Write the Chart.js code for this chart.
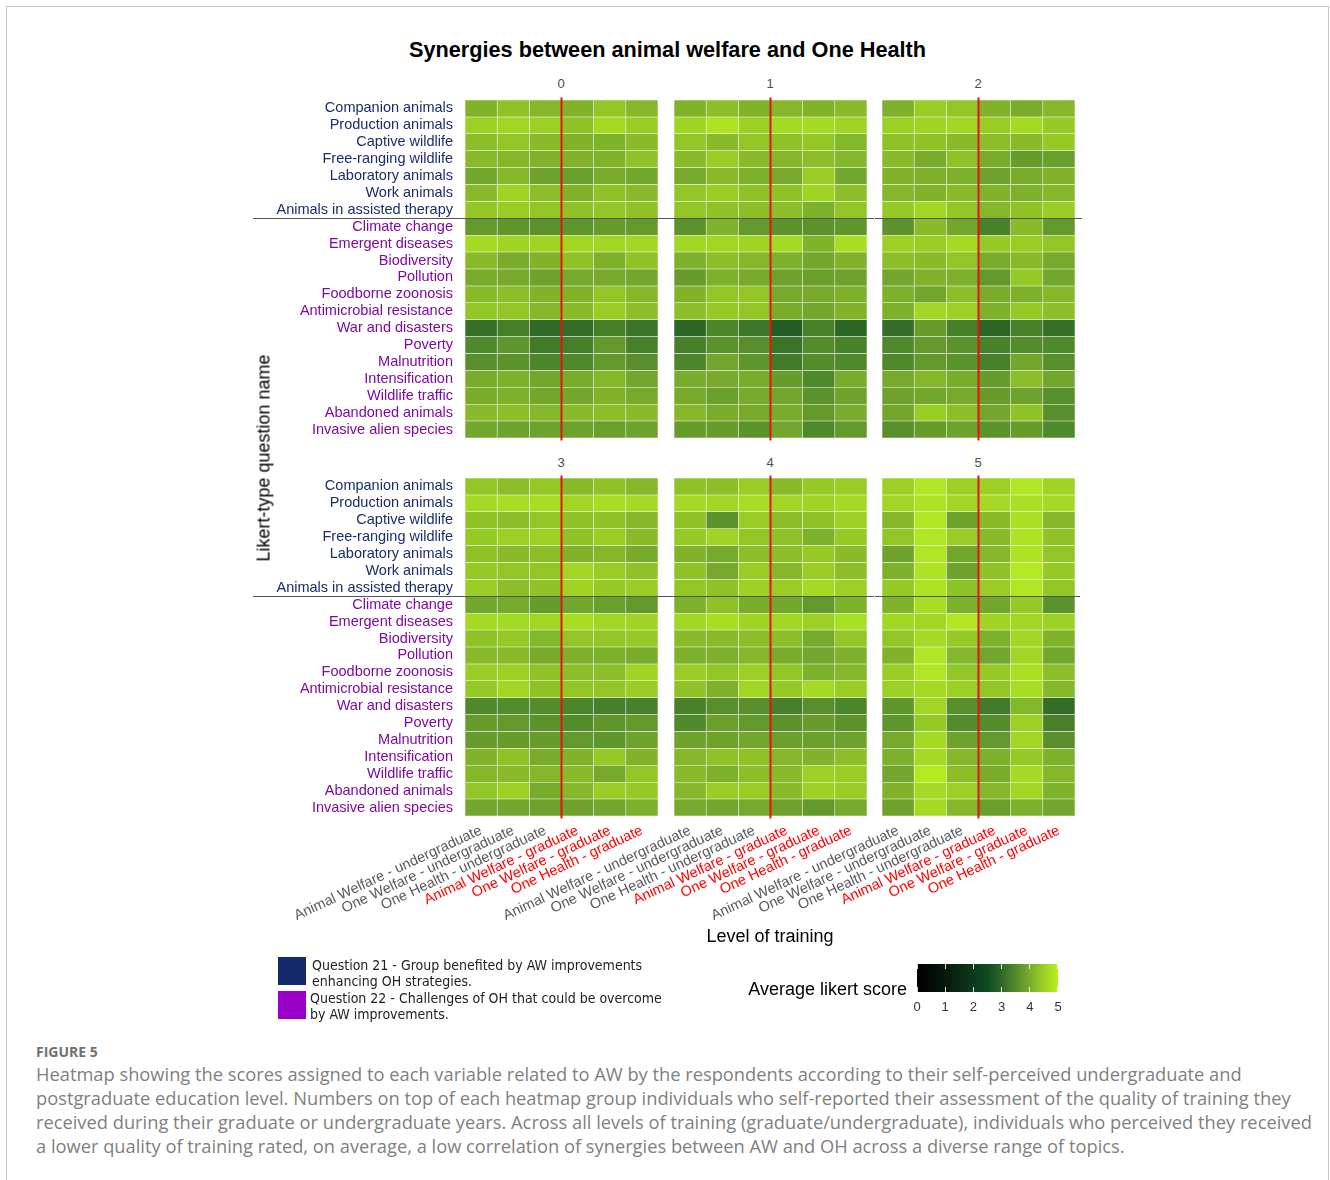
<!DOCTYPE html>
<html>
<head>
<meta charset="utf-8">
<script src="https://cdn.jsdelivr.net/npm/chart.js@4.4.1/dist/chart.umd.min.js"></script>
<style>
  body { margin: 0; background: #fff; width: 1330px; height: 1180px; position: relative; overflow: hidden;
         font-family: "Liberation Sans", Arial, sans-serif; }
  .frame { position: absolute; left: 6px; top: 6px; width: 1323px; height: 1200px; box-sizing: border-box;
           border: 1.5px solid #c8c8c8; border-bottom: none; }
  canvas.panel { position: absolute; left: 0; }
  .txt { position: absolute; white-space: nowrap; }
  .strip { position: absolute; width: 40px; margin-left: -20px; text-align: center; font-size: 13px; color: #4d4d4d; }
  .sw { position: absolute; left: 278px; width: 28px; height: 28px; }
  .leg { position: absolute; font-family: "DejaVu Sans Condensed", "Liberation Sans", sans-serif;
         font-size: 14px; line-height: 16px; color: #222; white-space: nowrap; }
  .cb { position: absolute; top: 999px; width: 20px; margin-left: -10px; text-align: center; font-size: 13px; color: #333; }
  .cap { position: absolute; left: 36px; font-family: "Open Sans", Lato, sans-serif; color: #808080; white-space: nowrap; }
</style>
</head>
<body>
<div class="frame"></div>

<div class="txt" style="left:0; width:1335px; top:37px; text-align:center; font-size:21.7px; font-weight:bold; color:#000;">Synergies between animal welfare and One Health</div>

<div class="strip" style="left:561px; top:76px;">0</div>
<div class="strip" style="left:770px; top:76px;">1</div>
<div class="strip" style="left:978px; top:76px;">2</div>
<div class="strip" style="left:561px; top:455px;">3</div>
<div class="strip" style="left:770px; top:455px;">4</div>
<div class="strip" style="left:978px; top:455px;">5</div>

<canvas id="p0" class="panel" width="1330" height="356" style="top:90px"></canvas>
<canvas id="p1" class="panel" width="1330" height="356" style="top:90px"></canvas>
<canvas id="p2" class="panel" width="1330" height="356" style="top:90px"></canvas>
<canvas id="p3" class="panel" width="1330" height="500" style="top:468px"></canvas>
<canvas id="p4" class="panel" width="1330" height="500" style="top:468px"></canvas>
<canvas id="p5" class="panel" width="1330" height="500" style="top:468px"></canvas>

<div class="txt" style="left:264px; top:458px; font-size:18px; color:#000; transform:translate(-50%,-50%) rotate(-90deg);">Likert-type question name</div>
<div class="txt" style="left:770px; top:936px; font-size:18px; color:#000; transform:translate(-50%,-50%);">Level of training</div>

<div class="sw" style="top:957px; background:#152a6b;"></div>
<div class="sw" style="top:991px; background:#9a00c8;"></div>
<div class="leg" style="left:312px; top:957px;">Question 21 - Group benefited by AW improvements<br>enhancing OH strategies.</div>
<div class="leg" style="left:310px; top:990px;">Question 22 - Challenges of OH that could be overcome<br>by AW improvements.</div>

<div class="txt" style="left:700px; width:207px; top:979px; text-align:right; font-size:18px; color:#000;">Average likert score</div>
<canvas id="colorbar" width="141" height="28" style="position:absolute; left:917px; top:964px;"></canvas>
<div id="cbTicks"></div>

<div class="cap" style="top:1042px; font-size:14px; font-weight:bold; color:#707070;">FIGURE 5</div>
<div class="cap" style="top:1062px; font-size:18.3px; line-height:24px;">Heatmap showing the scores assigned to each variable related to AW by the respondents according to their self-perceived undergraduate and<br>postgraduate education level. Numbers on top of each heatmap group individuals who self-reported their assessment of the quality of training they<br>received during their graduate or undergraduate years. Across all levels of training (graduate/undergraduate), individuals who perceived they received<br>a lower quality of training rated, on average, a low correlation of synergies between AW and OH across a diverse range of topics.</div>

<script>
// training levels (columns of every panel)
const levels = [
  "Animal Welfare - undergraduate",
  "One Welfare - undergraduate",
  "One Health - undergraduate",
  "Animal Welfare - graduate",
  "One Welfare - graduate",
  "One Health - graduate",
];

// first 7 rows belong to question 21, the rest to question 22
const questions = [
  "Companion animals", "Production animals", "Captive wildlife", "Free-ranging wildlife",
  "Laboratory animals", "Work animals", "Animals in assisted therapy",
  "Climate change", "Emergent diseases", "Biodiversity", "Pollution", "Foodborne zoonosis",
  "Antimicrobial resistance", "War and disasters", "Poverty", "Malnutrition",
  "Intensification", "Wildlife traffic", "Abandoned animals", "Invasive alien species",
];
const q21Count = 7;

// self-reported training quality groups
const groups = ["0", "1", "2", "3", "4", "5"];

// average likert score, one row per question, one column per training level
const scores0 = [
  [4.10, 4.30, 4.15, 4.10, 4.35, 4.15],
  [4.50, 4.60, 4.50, 4.30, 4.65, 4.45],
  [4.25, 4.35, 4.20, 4.10, 4.10, 4.20],
  [4.20, 4.15, 4.10, 4.10, 4.10, 4.30],
  [3.90, 4.15, 3.85, 3.80, 4.00, 3.90],
  [4.20, 4.55, 4.25, 4.10, 4.30, 4.20],
  [4.35, 4.45, 4.35, 4.30, 4.35, 4.30],
  [3.70, 3.65, 3.60, 3.65, 3.75, 3.70],
  [4.65, 4.55, 4.55, 4.60, 4.60, 4.60],
  [4.20, 4.00, 4.10, 4.30, 4.05, 4.30],
  [4.00, 3.95, 3.85, 3.95, 3.95, 3.90],
  [4.20, 4.25, 4.10, 4.10, 4.35, 4.15],
  [4.35, 4.35, 4.15, 4.20, 4.45, 4.25],
  [3.10, 3.30, 3.00, 3.05, 3.30, 3.15],
  [3.45, 3.65, 3.25, 3.30, 3.70, 3.35],
  [3.55, 3.60, 3.40, 3.45, 3.70, 3.55],
  [4.00, 4.05, 3.90, 4.00, 4.15, 3.90],
  [4.00, 4.05, 3.90, 3.90, 4.10, 3.95],
  [4.20, 4.25, 4.15, 4.20, 4.25, 4.20],
  [3.90, 3.85, 3.85, 3.85, 3.80, 3.85],
];
const scores1 = [
  [4.10, 4.25, 4.10, 4.15, 4.10, 4.20],
  [4.55, 4.80, 4.50, 4.65, 4.65, 4.55],
  [4.35, 4.20, 4.35, 4.30, 4.35, 4.15],
  [4.20, 4.45, 4.20, 4.15, 4.25, 4.15],
  [3.95, 4.20, 4.05, 3.95, 4.45, 3.90],
  [4.35, 4.45, 4.30, 4.30, 4.55, 4.25],
  [4.35, 4.30, 4.25, 4.25, 4.05, 4.35],
  [3.60, 4.10, 3.70, 3.60, 3.60, 3.65],
  [4.60, 4.60, 4.55, 4.65, 4.10, 4.70],
  [4.05, 4.25, 4.15, 4.05, 3.90, 4.10],
  [3.75, 4.05, 3.95, 3.85, 3.80, 3.85],
  [4.10, 4.35, 4.35, 3.95, 3.95, 4.05],
  [4.25, 4.40, 4.35, 4.00, 3.90, 4.10],
  [2.95, 3.40, 3.20, 2.80, 3.35, 2.95],
  [3.30, 3.60, 3.55, 3.15, 3.50, 3.35],
  [3.40, 3.90, 3.65, 3.25, 3.50, 3.45],
  [4.00, 3.95, 4.00, 3.75, 3.45, 4.00],
  [3.95, 3.80, 3.95, 3.90, 3.60, 3.85],
  [4.15, 4.00, 3.95, 4.00, 3.70, 4.00],
  [3.75, 3.75, 3.60, 3.90, 3.45, 3.70],
];
const scores2 = [
  [4.05, 4.45, 4.35, 4.10, 4.00, 4.15],
  [4.50, 4.55, 4.60, 4.45, 4.65, 4.40],
  [4.30, 4.30, 4.20, 4.25, 4.20, 4.40],
  [4.20, 4.00, 4.30, 4.00, 3.75, 3.80],
  [4.10, 4.05, 4.05, 3.85, 4.00, 4.10],
  [4.15, 4.10, 4.20, 4.10, 4.05, 4.15],
  [4.40, 4.60, 4.35, 4.15, 4.30, 4.45],
  [3.60, 4.20, 3.90, 3.35, 4.20, 3.70],
  [4.50, 4.45, 4.65, 4.40, 4.45, 4.35],
  [4.25, 4.20, 4.35, 4.00, 4.20, 3.95],
  [3.90, 4.10, 4.05, 3.70, 4.40, 3.90],
  [4.05, 3.90, 4.25, 4.00, 4.05, 4.15],
  [4.05, 4.60, 4.50, 4.05, 4.40, 4.25],
  [3.05, 3.75, 3.30, 2.95, 3.35, 3.10],
  [3.45, 3.70, 3.60, 3.35, 3.50, 3.45],
  [3.45, 3.70, 3.60, 3.35, 3.90, 3.55],
  [3.95, 4.15, 4.00, 3.75, 4.25, 3.90],
  [3.85, 3.90, 3.95, 3.75, 3.85, 3.55],
  [3.90, 4.45, 4.25, 3.90, 4.30, 3.55],
  [3.55, 3.75, 3.85, 3.60, 3.75, 3.45],
];
const scores3 = [
  [4.35, 4.25, 4.40, 4.20, 4.30, 4.15],
  [4.65, 4.70, 4.70, 4.60, 4.70, 4.65],
  [4.30, 4.25, 4.35, 4.30, 4.30, 4.15],
  [4.40, 4.50, 4.50, 4.30, 4.45, 4.20],
  [4.30, 4.20, 4.25, 4.10, 4.15, 3.95],
  [4.40, 4.35, 4.35, 4.60, 4.45, 4.30],
  [4.45, 4.25, 4.30, 4.55, 4.40, 4.45],
  [3.90, 3.95, 3.75, 3.90, 3.80, 3.70],
  [4.65, 4.65, 4.60, 4.70, 4.60, 4.55],
  [4.30, 4.40, 4.15, 4.35, 4.35, 4.40],
  [4.20, 4.20, 3.95, 4.05, 4.05, 4.00],
  [4.45, 4.50, 4.30, 4.25, 4.25, 4.55],
  [4.40, 4.60, 4.30, 4.35, 4.35, 4.45],
  [3.45, 3.50, 3.50, 3.40, 3.30, 3.35],
  [3.75, 3.70, 3.60, 3.50, 3.65, 3.70],
  [3.75, 3.75, 3.75, 3.70, 3.65, 3.85],
  [4.10, 4.30, 4.00, 4.10, 4.40, 4.10],
  [4.15, 4.20, 4.15, 4.20, 3.95, 4.35],
  [4.35, 4.50, 4.00, 4.15, 4.45, 4.40],
  [3.90, 3.90, 3.85, 3.85, 3.90, 4.05],
];
const scores4 = [
  [4.30, 4.25, 4.45, 4.20, 4.40, 4.45],
  [4.65, 4.60, 4.70, 4.60, 4.55, 4.65],
  [4.30, 3.60, 4.45, 4.25, 4.30, 4.50],
  [4.40, 4.55, 4.35, 4.30, 4.05, 4.40],
  [4.10, 3.95, 4.25, 4.25, 4.40, 4.20],
  [4.30, 3.95, 4.45, 4.15, 4.45, 4.25],
  [4.35, 4.30, 4.50, 4.45, 4.65, 4.50],
  [4.05, 4.30, 4.00, 3.90, 3.70, 4.05],
  [4.60, 4.70, 4.55, 4.60, 4.50, 4.75],
  [4.20, 4.20, 4.25, 4.25, 3.95, 4.35],
  [4.05, 4.05, 4.15, 4.00, 3.90, 4.05],
  [4.45, 4.35, 4.50, 4.35, 4.05, 4.15],
  [4.30, 4.05, 4.60, 4.40, 4.65, 4.45],
  [3.35, 3.55, 3.55, 3.30, 3.55, 3.40],
  [3.45, 3.80, 3.70, 3.60, 3.75, 3.60],
  [3.85, 3.85, 3.90, 3.80, 3.80, 3.85],
  [4.15, 4.30, 4.30, 4.15, 4.10, 4.25],
  [4.20, 4.05, 4.25, 4.20, 4.50, 4.45],
  [4.15, 4.45, 4.45, 4.20, 4.50, 4.45],
  [3.95, 3.90, 3.95, 3.85, 3.70, 3.95],
];
const scores5 = [
  [4.50, 4.85, 4.50, 4.50, 4.85, 4.55],
  [4.60, 4.80, 4.60, 4.65, 4.75, 4.65],
  [4.15, 4.85, 3.85, 4.20, 4.75, 4.15],
  [4.35, 4.85, 4.45, 4.20, 4.80, 4.30],
  [3.85, 4.85, 3.90, 4.15, 4.80, 4.35],
  [4.05, 4.80, 3.85, 4.30, 4.90, 4.40],
  [4.40, 4.80, 4.30, 4.45, 4.85, 4.35],
  [4.10, 4.70, 4.05, 3.90, 4.40, 3.60],
  [4.60, 4.60, 4.85, 4.55, 4.60, 4.50],
  [4.35, 4.65, 4.40, 4.05, 4.60, 4.10],
  [4.10, 4.85, 4.15, 3.90, 4.60, 3.90],
  [4.45, 4.85, 4.35, 4.40, 4.75, 4.25],
  [4.50, 4.65, 4.50, 4.35, 4.70, 4.15],
  [3.65, 4.60, 3.55, 3.25, 4.15, 3.05],
  [3.65, 4.40, 3.50, 3.50, 4.50, 3.35],
  [3.95, 4.65, 3.85, 3.70, 4.60, 3.55],
  [4.05, 4.65, 4.15, 4.05, 4.40, 4.05],
  [3.90, 4.90, 4.25, 4.00, 4.65, 4.15],
  [4.10, 4.65, 4.50, 4.15, 4.60, 4.10],
  [3.85, 4.65, 4.15, 3.80, 4.05, 3.90],
];

const NAVY = "#1a2c6e";
const PURPLE = "#7d0aa3";

// colour ramp for the likert score: black -> dark green -> yellow-green
const ramp = [
  [0, [0, 0, 0]],
  [1, [8, 24, 12]],
  [2, [12, 58, 28]],
  [2.5, [16, 74, 34]],
  [3, [48, 104, 40]],
  [3.5, [84, 140, 44]],
  [4, [122, 172, 44]],
  [4.5, [156, 208, 36]],
  [5, [184, 240, 34]],
];

function scoreColor(v) {
  for (let i = 1; i < ramp.length; i++) {
    if (v <= ramp[i][0]) {
      const [a, ca] = ramp[i - 1];
      const [b, cb] = ramp[i];
      const t = (v - a) / (b - a);
      const c = ca.map((x, k) => Math.round(x + (cb[k] - x) * t));
      return `rgb(${c[0]},${c[1]},${c[2]})`;
    }
  }
  const c = ramp[ramp.length - 1][1];
  return `rgb(${c[0]},${c[1]},${c[2]})`;
}

Chart.defaults.font.family = '"Liberation Sans", Arial, sans-serif';

// red divider between undergraduate and graduate, grey divider between questions 21 and 22
const dividers = {
  id: "dividers",
  afterDatasetsDraw(chart, args, opts) {
    const { ctx, chartArea, scales } = chart;
    const yTop = scales.y.getPixelForValue(q21Count - 1);
    const yBot = scales.y.getPixelForValue(q21Count);
    const yMid = Math.round((yTop + yBot) / 2) + 0.5;
    ctx.save();
    ctx.strokeStyle = "#555";
    ctx.lineWidth = 1;
    ctx.beginPath();
    ctx.moveTo(chartArea.left - opts.extLeft, yMid);
    ctx.lineTo(chartArea.right + opts.extRight, yMid);
    ctx.stroke();
    const x = scales.x.getPixelForValue(2.5);
    ctx.strokeStyle = "#e8130b";
    ctx.lineWidth = 2;
    ctx.beginPath();
    ctx.moveTo(x, chartArea.top - 2.5);
    ctx.lineTo(x, chartArea.bottom + 2.5);
    ctx.stroke();
    ctx.restore();
  },
};

const panelSpecs = [
  { id: "p0", scores: scores0, left: 465, right: 658, bottomRow: false, extLeft: 212, extRight: 8 },
  { id: "p1", scores: scores1, left: 674, right: 867, bottomRow: false, extLeft: 8, extRight: 7 },
  { id: "p2", scores: scores2, left: 882, right: 1075, bottomRow: false, extLeft: 7, extRight: 7 },
  { id: "p3", scores: scores3, left: 465, right: 658, bottomRow: true, extLeft: 212, extRight: 8 },
  { id: "p4", scores: scores4, left: 674, right: 867, bottomRow: true, extLeft: 8, extRight: 7 },
  { id: "p5", scores: scores5, left: 882, right: 1075, bottomRow: true, extLeft: 7, extRight: 5 },
];

const Y_LABEL_WIDTH = 212;
const PANEL_HEIGHT = 338;

panelSpecs.forEach((spec, p) => {
  const canvas = document.getElementById(spec.id);
  const showY = p % 3 === 0;
  const xAxisHeight = spec.bottomRow ? canvas.height - 10 - PANEL_HEIGHT : 0;

  // one floating-bar dataset per training level, spanning [c-0.5, c+0.5]
  const datasets = levels.map((lvl, c) => ({
    label: lvl,
    data: questions.map(() => [c - 0.5, c + 0.5]),
    backgroundColor: (ctx) => scoreColor(spec.scores[ctx.dataIndex][c]),
    borderColor: "rgba(255,255,255,0.18)",
    borderWidth: 0.6,
    borderSkipped: false,
    grouped: false,
    barPercentage: 1,
    categoryPercentage: 1,
  }));

  new Chart(canvas, {
    type: "bar",
    data: { labels: questions, datasets },
    options: {
      indexAxis: "y",
      responsive: false,
      animation: false,
      events: [],
      layout: {
        padding: {
          left: showY ? spec.left - Y_LABEL_WIDTH : spec.left,
          right: 1330 - spec.right,
          top: 10,
          bottom: spec.bottomRow ? 0 : canvas.height - 10 - PANEL_HEIGHT,
        },
      },
      plugins: {
        legend: { display: false },
        tooltip: { enabled: false },
        dividers: { extLeft: spec.extLeft, extRight: spec.extRight },
      },
      scales: {
        x: {
          type: "linear",
          min: -0.5,
          max: 5.5,
          display: spec.bottomRow,
          grid: { display: false, drawTicks: false },
          border: { display: false },
          afterBuildTicks: (scale) => {
            scale.ticks = levels.map((_, i) => ({ value: i }));
          },
          afterFit: (scale) => {
            scale.height = xAxisHeight;
            scale.paddingLeft = 0;
            scale.paddingRight = 0;
          },
          ticks: {
            autoSkip: false,
            minRotation: 25,
            maxRotation: 25,
            padding: 6,
            font: { size: 14.5 },
            color: (ctx) => (ctx.index < 3 ? "#595959" : "#ff0000"),
            callback: (value, index) => levels[index],
          },
        },
        y: {
          type: "category",
          display: showY,
          grid: { display: false, drawTicks: false },
          border: { display: false },
          afterFit: (scale) => {
            scale.width = showY ? Y_LABEL_WIDTH : 0;
            scale.paddingTop = 0;
            scale.paddingBottom = 0;
          },
          ticks: {
            autoSkip: false,
            padding: 12,
            font: { size: 14.5 },
            color: (ctx) => (ctx.index < q21Count ? NAVY : PURPLE),
          },
        },
      },
    },
    plugins: [dividers],
  });
});

// colour bar for the likert score legend
const cb = document.getElementById("colorbar");
const cbx = cb.getContext("2d");
const grad = cbx.createLinearGradient(0, 0, cb.width, 0);
ramp.forEach(([v]) => grad.addColorStop(v / 5, scoreColor(v)));
cbx.fillStyle = grad;
cbx.fillRect(0, 0, cb.width, cb.height);
cbx.strokeStyle = "rgba(255,255,255,0.85)";
cbx.lineWidth = 1;
const cbTicks = document.getElementById("cbTicks");
for (let i = 0; i <= 5; i++) {
  const x = Math.round((i / 5) * (cb.width - 1)) + 0.5;
  cbx.beginPath();
  cbx.moveTo(x, 0); cbx.lineTo(x, 5);
  cbx.moveTo(x, cb.height - 5); cbx.lineTo(x, cb.height);
  cbx.stroke();
  const lab = document.createElement("div");
  lab.className = "cb";
  lab.style.left = (917 + (i / 5) * 141) + "px";
  lab.textContent = String(i);
  cbTicks.appendChild(lab);
}
</script>
</body>
</html>
